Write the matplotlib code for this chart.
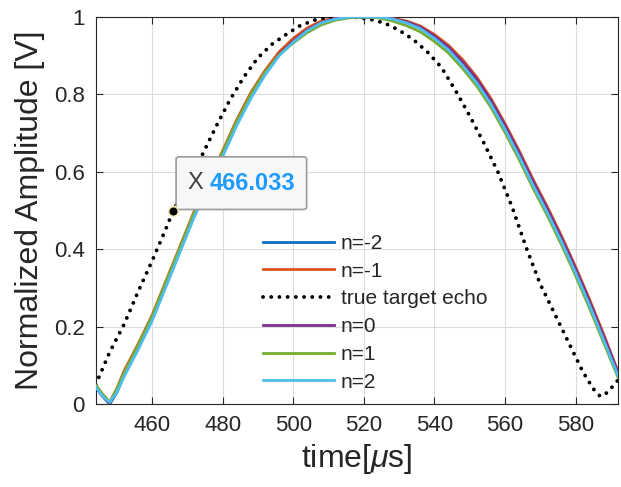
import numpy as np
import matplotlib
matplotlib.use("Agg")
import matplotlib.pyplot as plt
from matplotlib.patches import FancyBboxPatch

plt.rcParams['font.family'] = ['Liberation Sans', 'DejaVu Sans']
plt.rcParams['mathtext.fontset'] = 'custom'
plt.rcParams['mathtext.it'] = 'Liberation Sans:italic'
plt.rcParams['mathtext.rm'] = 'Liberation Sans'

# time axis for the estimated echoes (us)
t_est = [444, 446, 448, 450, 452, 456, 460, 464, 468, 472, 476, 480, 484, 488,
         492, 496, 500, 504, 508, 512, 516, 520, 524, 528, 532, 536, 540, 544,
         548, 552, 556, 560, 564, 568, 572, 576, 580, 584, 588, 592]

amp_nm2 = [0.045, 0.02, 0.0, 0.03, 0.075, 0.145, 0.22, 0.31, 0.40, 0.49, 0.565, 0.645,
           0.725, 0.795, 0.855, 0.905, 0.94, 0.968, 0.987, 0.996, 1.0, 1.0, 1.0, 0.996,
           0.987, 0.972, 0.948, 0.918, 0.88, 0.835, 0.78, 0.715, 0.645, 0.57, 0.5,
           0.425, 0.345, 0.26, 0.17, 0.08]
amp_nm1 = [0.05, 0.025, 0.005, 0.04, 0.085, 0.155, 0.23, 0.32, 0.41, 0.50, 0.575, 0.655,
           0.735, 0.805, 0.862, 0.91, 0.945, 0.972, 0.99, 0.998, 1.0, 1.0, 1.0, 0.997,
           0.99, 0.977, 0.955, 0.927, 0.89, 0.845, 0.79, 0.725, 0.655, 0.58, 0.51,
           0.435, 0.355, 0.27, 0.18, 0.085]
amp_n0 = [0.045, 0.02, 0.003, 0.032, 0.073, 0.143, 0.218, 0.308, 0.398, 0.488, 0.563, 0.643,
          0.723, 0.793, 0.853, 0.903, 0.938, 0.967, 0.986, 0.996, 1.0, 1.0, 1.0, 0.996,
          0.988, 0.974, 0.951, 0.922, 0.884, 0.84, 0.785, 0.72, 0.65, 0.575, 0.505,
          0.43, 0.35, 0.265, 0.175, 0.083]
amp_n1 = [0.05, 0.025, 0.005, 0.04, 0.08, 0.152, 0.227, 0.317, 0.407, 0.497, 0.572, 0.652,
          0.73, 0.8, 0.857, 0.902, 0.933, 0.96, 0.98, 0.992, 0.998, 1.0, 0.998, 0.99,
          0.978, 0.962, 0.937, 0.907, 0.867, 0.822, 0.767, 0.702, 0.632, 0.557, 0.487,
          0.412, 0.332, 0.247, 0.158, 0.07]
amp_n2 = [0.045, 0.02, 0.005, 0.03, 0.07, 0.14, 0.215, 0.305, 0.395, 0.485, 0.56, 0.64,
          0.72, 0.79, 0.85, 0.90, 0.935, 0.965, 0.985, 0.995, 1.0, 1.0, 1.0, 0.995,
          0.985, 0.97, 0.945, 0.915, 0.875, 0.83, 0.775, 0.71, 0.64, 0.565, 0.495,
          0.42, 0.34, 0.255, 0.165, 0.075]

# true target echo
t_true = [444, 448, 452, 456, 460, 464, 466, 470, 474, 478, 482, 486, 490, 494, 498,
          502, 506, 510, 514, 518, 522, 526, 530, 534, 538, 542, 546, 550, 554, 558,
          562, 566, 570, 574, 578, 582, 585, 587, 589, 592]
amp_true = [0.05, 0.135, 0.205, 0.29, 0.37, 0.455, 0.50, 0.57, 0.64, 0.715, 0.785, 0.845,
            0.895, 0.93, 0.955, 0.978, 0.992, 0.999, 1.0, 0.999, 0.994, 0.984, 0.966,
            0.942, 0.91, 0.87, 0.81, 0.745, 0.675, 0.60, 0.51, 0.405, 0.31, 0.235,
            0.16, 0.085, 0.04, 0.02, 0.03, 0.062]

labels = ['n=-2', 'n=-1', 'true target echo', 'n=0', 'n=1', 'n=2']
colors = ['#0072BD', '#D95319', 'black', '#7E2F8E', '#77AC30', '#4DBEEE']

tip_x = 466.033
tip_y = 0.5

x_ticks = [460, 480, 500, 520, 540, 560, 580]
y_ticks = [0, 0.2, 0.4, 0.6, 0.8, 1]
y_ticklabels = ['0', '0.2', '0.4', '0.6', '0.8', '1']

fig = plt.figure(figsize=(6.21, 4.87), dpi=100)
ax = fig.add_axes([0.154, 0.170, 0.841, 0.795])

series = [(t_est, amp_nm2), (t_est, amp_nm1), (t_true, amp_true),
          (t_est, amp_n0), (t_est, amp_n1), (t_est, amp_n2)]
for (tt, aa), lab, c in zip(series, labels, colors):
    if lab == 'true target echo':
        ax.plot(tt, aa, color=c, linestyle=(0, (0.01, 2.1)), lw=2.8, label=lab,
                dash_capstyle='round', zorder=3)
    else:
        ax.plot(tt, aa, color=c, lw=2.0, label=lab, zorder=3)

ax.set_xlim(444, 592)
ax.set_ylim(0, 1)
ax.set_xticks(x_ticks)
ax.set_yticks(y_ticks)
ax.set_yticklabels(y_ticklabels)
ax.tick_params(direction='in', length=5, width=0.8, labelsize=16, colors='#262626',
               top=True, right=True, pad=8)
for s in ax.spines.values():
    s.set_color('#262626')
    s.set_linewidth(0.8)
ax.grid(True, color='#dcdcdc', lw=0.8)
ax.set_axisbelow(True)

ax.set_xlabel('time[$\\mu$s]', fontsize=23, color='#262626', labelpad=4)
ax.set_ylabel('Normalized Amplitude [V]', fontsize=23, color='#262626', labelpad=6)

leg = ax.legend(loc='upper left', bbox_to_anchor=(0.32, 0.44), frameon=False,
                borderaxespad=0, borderpad=0, fontsize=15, handlelength=3.4,
                handletextpad=0.35, labelspacing=0.42)
for txt in leg.get_texts():
    txt.set_color('#262626')

# data tip
box = FancyBboxPatch((0.154, 0.503), 0.25, 0.136, transform=ax.transAxes,
                     boxstyle='round,pad=0,rounding_size=0.006',
                     facecolor='#f7f7f9', edgecolor='#9a9a9a', lw=1.2, zorder=5)
ax.add_patch(box)
ax.text(0.176, 0.571, 'X', transform=ax.transAxes, fontsize=17, color='#404040',
        va='center', ha='left', zorder=6)
ax.text(0.219, 0.571, f'{tip_x:.3f}', transform=ax.transAxes, fontsize=17,
        color='#1e9bff', fontweight='bold', va='center', ha='left', zorder=6)
ax.plot([tip_x], [tip_y], 'o', ms=7, color='black', mec='#f0e8b0', mew=1.2, zorder=7)

fig.savefig('out.png', dpi=100)
